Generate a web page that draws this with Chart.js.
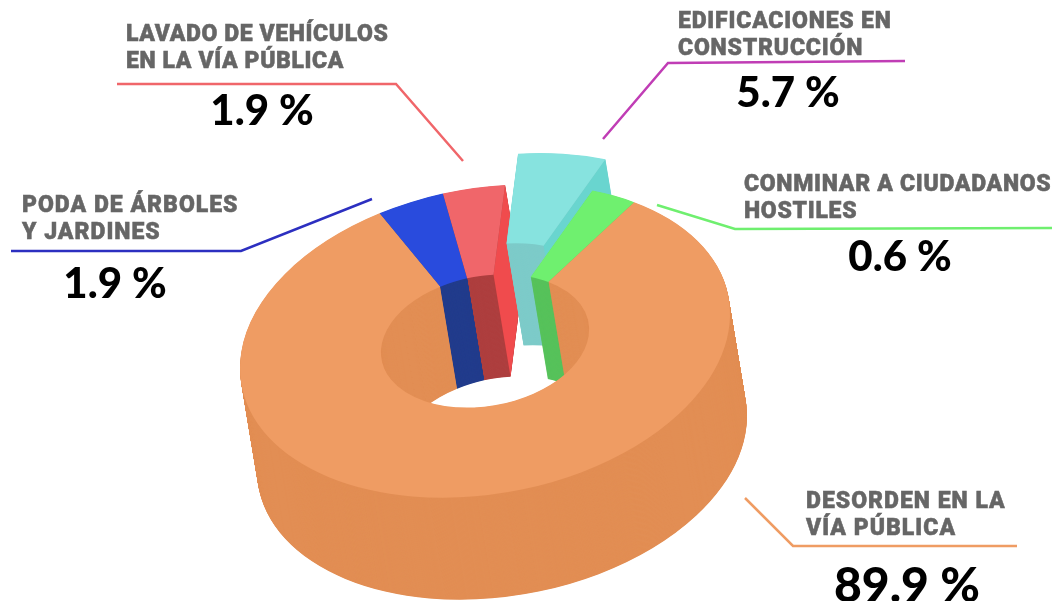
<!DOCTYPE html>
<html>
<head>
<meta charset="utf-8">
<style>
  html, body { margin: 0; padding: 0; background: #fff; }
  canvas { display: block; }
</style>
<script src="https://cdn.jsdelivr.net/npm/chart.js@4"></script>
</head>
<body>
<canvas id="myChart" width="1052" height="601"></canvas>
<script>
// labels and printed percentages
const categories = [
  ['PODA DE ÁRBOLES', 'Y JARDINES'],
  ['LAVADO DE VEHÍCULOS', 'EN LA VÍA PÚBLICA'],
  ['EDIFICACIONES EN', 'CONSTRUCCIÓN'],
  ['CONMINAR A CIUDADANOS', 'HOSTILES'],
  ['DESORDEN EN LA', 'VÍA PÚBLICA']
];
const percentValues = [1.9, 1.9, 5.7, 0.6, 89.9];
// the picture does not draw the slices to scale, so these are the sizes as drawn (degrees)
const sliceDegrees = [15.6, 14.6, 21.3, 11.5, 297];

const topColors = ['#294BDD', '#F0666A', '#87E3DF', '#6FF06F', '#EF9C63'];
const wallColors = ['#223C8C', '#AE3F3F', '#7DCBC9', '#57C25B', '#E28E54'];
const lineColors = ['#2C2FC0', '#F0666A', '#C03DB5', '#6FEF6F', '#EF9C63'];

// layout of the 3d look
const firstAngle = -25.5;
const explode = [0, 0, 49, 0, 0];
const centerX = 485, centerY = 341;
const tilt = -0.11, squash = 0.63;
const depthX = 17, depthY = 102;

// label positions: text x, first baseline, letter spacing, percent center x, percent baseline, percent size, leader points
const callouts = [
  { x: 22, y: 212, gap: 1, px: 115, py: 298, size: 42, line: [[11, 251], [241, 251], [372, 199]] },
  { x: 126, y: 41, gap: 0.6, px: 262, py: 125, size: 42, line: [[117, 84], [396, 84], [463, 161]] },
  { x: 678, y: 28, gap: 0.8, px: 788, py: 107, size: 42, line: [[905, 61], [668, 63], [603, 139]] },
  { x: 744, y: 191, gap: 0.7, px: 900, py: 271, size: 42, line: [[657, 205], [735, 229], [1052, 228]] },
  { x: 806, y: 508, gap: 1, px: 907, py: 602, size: 48, line: [[745, 498], [793, 546], [1017, 546]] }
];

// moves the flat circle of the chart to the tilted position, z goes from 0 (top) to 1 (bottom)
function project(arc, x, y, z) {
  const u = x - arc.x, v = y - arc.y;
  return [centerX + u + depthX * z, centerY + tilt * u + squash * v + depthY * z];
}

function drawSlice(ctx, arc, color, z, dist) {
  const mid = (arc.startAngle + arc.endAngle) / 2;
  const o = arc.options;
  ctx.save();
  ctx.transform(1, tilt, 0, squash,
    centerX - arc.x + depthX * z,
    centerY - tilt * arc.x - squash * arc.y + depthY * z);
  ctx.translate(Math.cos(mid) * dist, Math.sin(mid) * dist);
  arc.options = Object.assign({}, o, { backgroundColor: color });
  arc.draw(ctx);
  arc.options = o;
  ctx.restore();
}

function drawWalls(ctx, arc, color, dist) {
  const steps = depthY * 2;
  for (let i = steps; i > 0; i--) {
    drawSlice(ctx, arc, color, i / steps, dist);
  }
}

// flat side of a slice, at one of its two edge angles
function drawSide(ctx, arc, angle, color, dist) {
  const mid = (arc.startAngle + arc.endAngle) / 2;
  const ox = arc.x + Math.cos(mid) * dist, oy = arc.y + Math.sin(mid) * dist;
  const at = (r, z) => project(arc, ox + Math.cos(angle) * r, oy + Math.sin(angle) * r, z);
  const pts = [at(arc.outerRadius, 0), at(arc.innerRadius, 0), at(arc.innerRadius, 1), at(arc.outerRadius, 1)];
  ctx.beginPath();
  pts.forEach((p, i) => i ? ctx.lineTo(p[0], p[1]) : ctx.moveTo(p[0], p[1]));
  ctx.closePath();
  ctx.fillStyle = color;
  ctx.fill();
}

const ring3d = {
  id: 'ring3d',
  beforeDatasetsDraw(chart) {
    const ctx = chart.ctx;
    const arcs = chart.getDatasetMeta(0).data;
    const [blue, red, cyan, green, orange] = arcs;

    // red before blue, otherwise the red sweep leaks over the blue wall
    drawWalls(ctx, red, wallColors[1], 0);
    drawSide(ctx, red, red.endAngle, '#F04B4D', 0);
    drawWalls(ctx, blue, wallColors[0], 0);

    drawWalls(ctx, cyan, wallColors[2], explode[2]);
    drawSide(ctx, cyan, cyan.endAngle, '#69D5CF', explode[2]);
    drawSlice(ctx, cyan, topColors[2], 0, explode[2]);

    drawWalls(ctx, green, wallColors[3], 0);
    // orange goes after the others so its hole wall hides what they sweep behind it
    drawWalls(ctx, orange, wallColors[4], 0);

    drawSlice(ctx, blue, topColors[0], 0, 0);
    drawSlice(ctx, red, topColors[1], 0, 0);
    drawSlice(ctx, green, topColors[3], 0, 0);
    drawSlice(ctx, orange, topColors[4], 0, 0);
    return false; // already drawn here
  },
  afterDraw(chart) {
    const ctx = chart.ctx;
    callouts.forEach((c, i) => {
      ctx.beginPath();
      c.line.forEach((p, k) => k ? ctx.lineTo(p[0], p[1]) : ctx.moveTo(p[0], p[1]));
      ctx.strokeStyle = lineColors[i];
      ctx.lineWidth = 2.5;
      ctx.stroke();

      ctx.fillStyle = '#666666';
      ctx.strokeStyle = '#666666';
      ctx.lineWidth = 0.5;
      ctx.font = '900 23px Roboto';
      ctx.letterSpacing = c.gap + 'px';
      ctx.textAlign = 'left';
      ctx.textBaseline = 'alphabetic';
      categories[i].forEach((t, k) => {
        ctx.fillText(t, c.x, c.y + k * 27);
        ctx.strokeText(t, c.x, c.y + k * 27);
      });

      ctx.fillStyle = '#000000';
      ctx.font = '900 ' + c.size + 'px Lato';
      ctx.letterSpacing = '0px';
      ctx.textAlign = 'center';
      ctx.fillText(percentValues[i] + ' %', c.px, c.py);
    });
  }
};

const myChart = new Chart('myChart', {
  type: 'doughnut',
  data: {
    labels: categories,
    datasets: [{
      data: sliceDegrees,
      backgroundColor: topColors,
      borderWidth: 0
    }]
  },
  options: {
    responsive: false,
    animation: false,
    rotation: firstAngle,
    radius: 245,
    cutout: '42.5%',
    plugins: { legend: { display: false }, tooltip: { enabled: false } }
  },
  plugins: [ring3d]
});
</script>
</body>
</html>
